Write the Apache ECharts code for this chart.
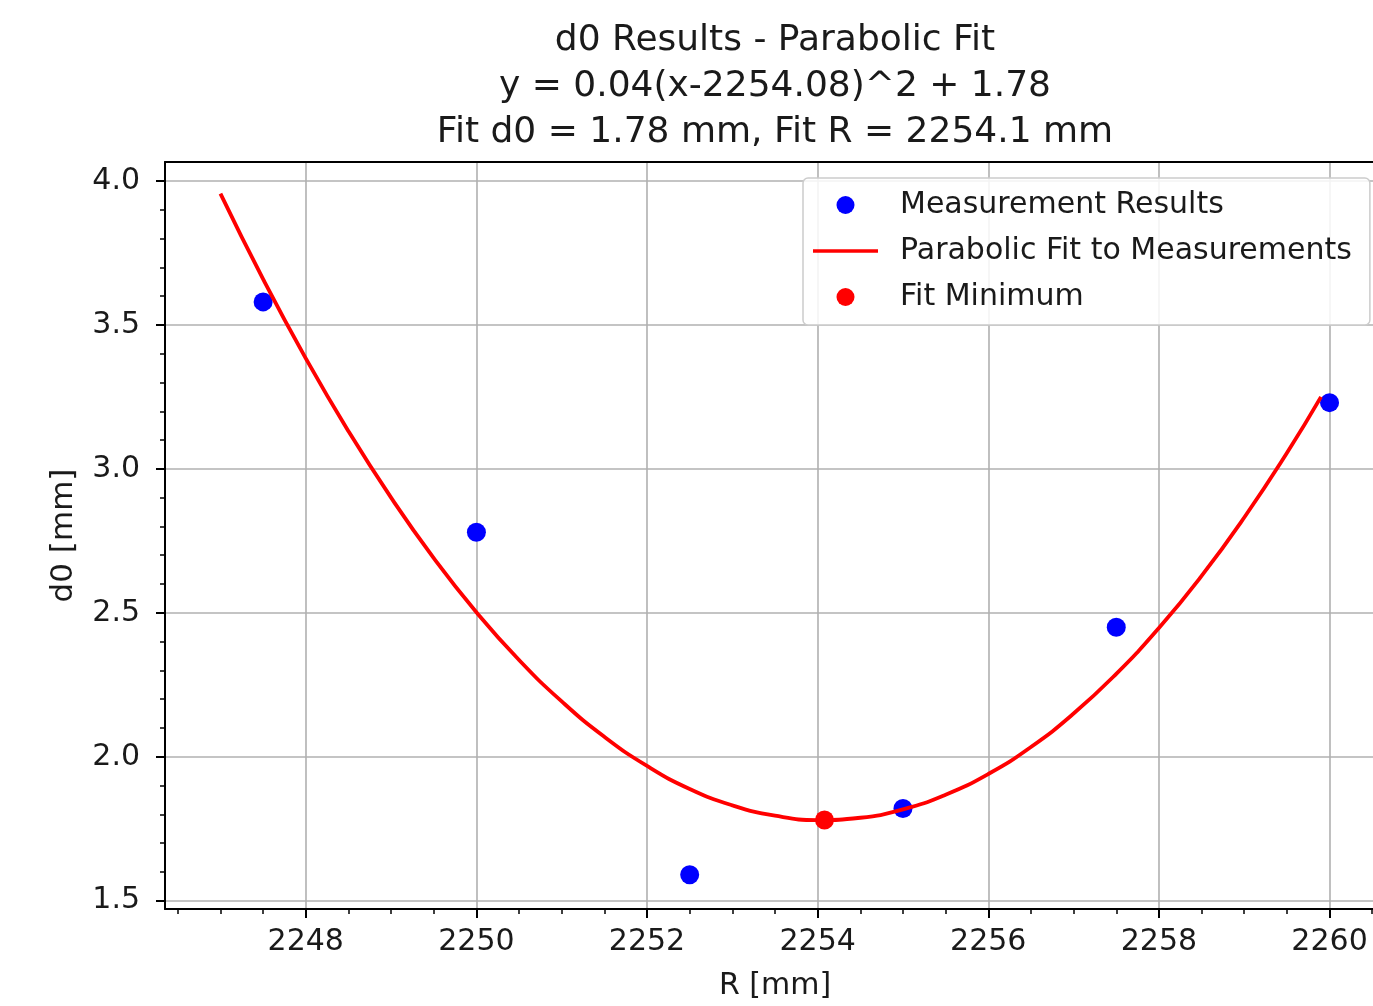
<!DOCTYPE html>
<html><head><meta charset="utf-8">
<script src="https://cdn.jsdelivr.net/npm/echarts@6/dist/echarts.min.js"></script>
<style>html,body{margin:0;padding:0;background:#fff;overflow:hidden;width:1373px;height:1006px}#c{width:1385px;height:1006px}</style>
</head><body><div id="c"></div>
<script>
// ---- data ----
const titleLines = ['d0 Results - Parabolic Fit', 'y = 0.04(x-2254.08)^2 + 1.78', 'Fit d0 = 1.78 mm, Fit R = 2254.1 mm'];
const measR  = [2247.5, 2250, 2252.5, 2255, 2257.5, 2260];
const measD0 = [3.58, 2.78, 1.59, 1.82, 2.45, 3.23];
const fitR  = [2247, 2247.5, 2248, 2248.5, 2249, 2249.5, 2250, 2250.5, 2251, 2251.5, 2252, 2252.5, 2253, 2253.5, 2254, 2254.5, 2255, 2255.5, 2256, 2256.5, 2257, 2257.5, 2258, 2258.5, 2259, 2259.5, 2259.9];
const fitD0 = [3.956, 3.659, 3.384, 3.131, 2.900, 2.690, 2.502, 2.336, 2.192, 2.069, 1.968, 1.888, 1.831, 1.795, 1.780, 1.788, 1.817, 1.868, 1.940, 2.034, 2.150, 2.288, 2.447, 2.628, 2.831, 3.055, 3.250];
const minR  = [2254.08];
const minD0 = [1.78];
const xTicks = [2248, 2250, 2252, 2254, 2256, 2258, 2260];
const yTicks = [1.5, 2.0, 2.5, 3.0, 3.5, 4.0];
const seriesNames = ['Measurement Results', 'Parabolic Fit to Measurements', 'Fit Minimum'];
const xName = 'R [mm]';
const yName = 'd0 [mm]';

const FONT = 'DejaVu Sans';
const TXT = '#1a1a1a';
const zip = (a, b) => a.map((v, i) => [v, b[i]]);
const X_MIN = 2246.35, X_MAX = 2260.65;

const chart = echarts.init(document.getElementById('c'), null, {renderer: 'canvas'});
chart.setOption({
  animation: false,
  backgroundColor: '#fff',
  textStyle: {fontFamily: FONT},
  graphic: [{
    type: 'text', x: 775, y: 18,
    style: {
      text: titleLines.join('\n'), fontFamily: FONT, fontSize: 36, fill: TXT,
      align: 'center', verticalAlign: 'top', lineHeight: 46
    }
  }],
  grid: {left: 165, top: 162, right: 0, bottom: 94, show: false},
  legend: {
    orient: 'vertical', left: 803, top: 178,
    itemWidth: 65, itemHeight: 18, itemGap: 16,
    padding: [12, 18, 13, 10],
    backgroundColor: 'rgba(255,255,255,0.85)', borderColor: '#cccccc', borderWidth: 1.5, borderRadius: 5,
    textStyle: {fontFamily: FONT, fontSize: 30, lineHeight: 29, color: TXT, padding: [0, 0, 0, 17]},
    data: [
      {name: seriesNames[0], icon: 'circle'},
      {name: seriesNames[1], icon: 'path://M0 0H60V3.4H0Z'},
      {name: seriesNames[2], icon: 'circle'}
    ]
  },
  xAxis: [{
    type: 'value', min: X_MIN, max: X_MAX, splitNumber: 7,
    name: xName, nameLocation: 'middle', nameGap: 62,
    nameTextStyle: {fontFamily: FONT, fontSize: 30, color: TXT},
    axisLine: {show: true, lineStyle: {color: '#000', width: 2}},
    axisTick: {show: true, customValues: xTicks, length: 9, lineStyle: {color: '#000', width: 2}},
    minorTick: {show: true, splitNumber: 4, length: 5, lineStyle: {color: '#000', width: 1.5}},
    axisLabel: {customValues: xTicks, margin: 18, fontFamily: FONT, fontSize: 30, color: TXT,
      formatter: v => String(Math.round(v))},
    splitLine: {show: true, lineStyle: {color: '#b0b0b0', width: 1.6}}
  }, {
    type: 'value', position: 'top', min: X_MIN, max: X_MAX,
    axisLine: {show: true, onZero: false, lineStyle: {color: '#000', width: 2}},
    axisTick: {show: false}, axisLabel: {show: false}, splitLine: {show: false}
  }],
  yAxis: {
    type: 'value', min: 1.471, max: 4.066, splitNumber: 5,
    name: yName, nameLocation: 'middle', nameGap: 86, nameRotate: 90,
    nameTextStyle: {fontFamily: FONT, fontSize: 31, color: TXT},
    axisLine: {show: true, lineStyle: {color: '#000', width: 2}},
    axisTick: {show: true, customValues: yTicks, length: 9, lineStyle: {color: '#000', width: 2}},
    minorTick: {show: true, splitNumber: 5, length: 5, lineStyle: {color: '#000', width: 1.5}},
    axisLabel: {customValues: yTicks, margin: 25, fontFamily: FONT, fontSize: 30, color: TXT,
      formatter: v => v.toFixed(1)},
    splitLine: {show: true, lineStyle: {color: '#b0b0b0', width: 1.6}}
  },
  series: [
    {name: seriesNames[0], type: 'scatter', data: zip(measR, measD0), symbolSize: 19,
     itemStyle: {color: '#0000ff', opacity: 1}, z: 2},
    {name: seriesNames[1], type: 'line', data: zip(fitR, fitD0), smooth: true, symbol: 'none',
     lineStyle: {color: '#ff0000', width: 3.8}, itemStyle: {color: '#ff0000'}, z: 3},
    {name: seriesNames[2], type: 'scatter', data: zip(minR, minD0), symbolSize: 19,
     itemStyle: {color: '#ff0000', opacity: 1}, z: 4}
  ]
});
</script>
</body></html>
